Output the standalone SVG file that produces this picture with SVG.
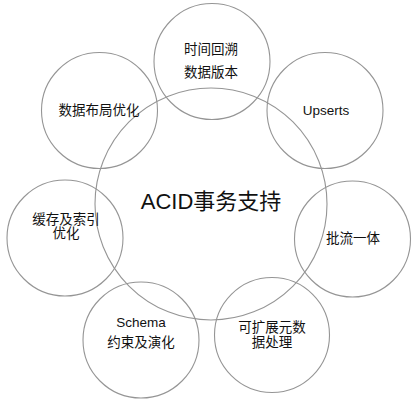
<svg xmlns="http://www.w3.org/2000/svg" width="418" height="400" viewBox="0 0 418 400">
<style>
.c{fill:none;stroke:#959595;stroke-width:1.1}
.t{font-family:"Liberation Sans","Noto Sans CJK SC",sans-serif;font-size:13.5px;fill:#111;text-anchor:middle;dominant-baseline:central}
.big{font-size:22px}
</style>
<rect width="418" height="400" fill="#fff"/>
<g id="connectors"></g>
<g id="center"><circle class="c" cx="211" cy="204" r="116"/><text class="t big" x="211" y="201">ACID事务支持</text></g>
<g id="n1"><circle class="c" cx="212" cy="61.5" r="58"/><text class="t" x="211" y="49">时间回溯</text><text class="t" x="211" y="72">数据版本</text></g>
<g id="n2"><circle class="c" cx="325" cy="110.5" r="58"/><text class="t" x="326" y="110">Upserts</text></g>
<g id="n3"><circle class="c" cx="352.5" cy="239" r="58"/><text class="t" x="353" y="238">批流一体</text></g>
<g id="n4"><circle class="c" cx="272" cy="335" r="57.5"/><text class="t" x="272" y="327">可扩展元数</text><text class="t" x="272" y="342">据处理</text></g>
<g id="n5"><circle class="c" cx="141" cy="340" r="58"/><text class="t" x="141" y="322">Schema</text><text class="t" x="141" y="342">约束及演化</text></g>
<g id="n6"><circle class="c" cx="65" cy="238" r="58"/><text class="t" x="66" y="219">缓存及索引</text><text class="t" x="66" y="233">优化</text></g>
<g id="n7"><circle class="c" cx="99.5" cy="110.5" r="58"/><text class="t" x="99" y="110">数据布局优化</text></g>
</svg>
